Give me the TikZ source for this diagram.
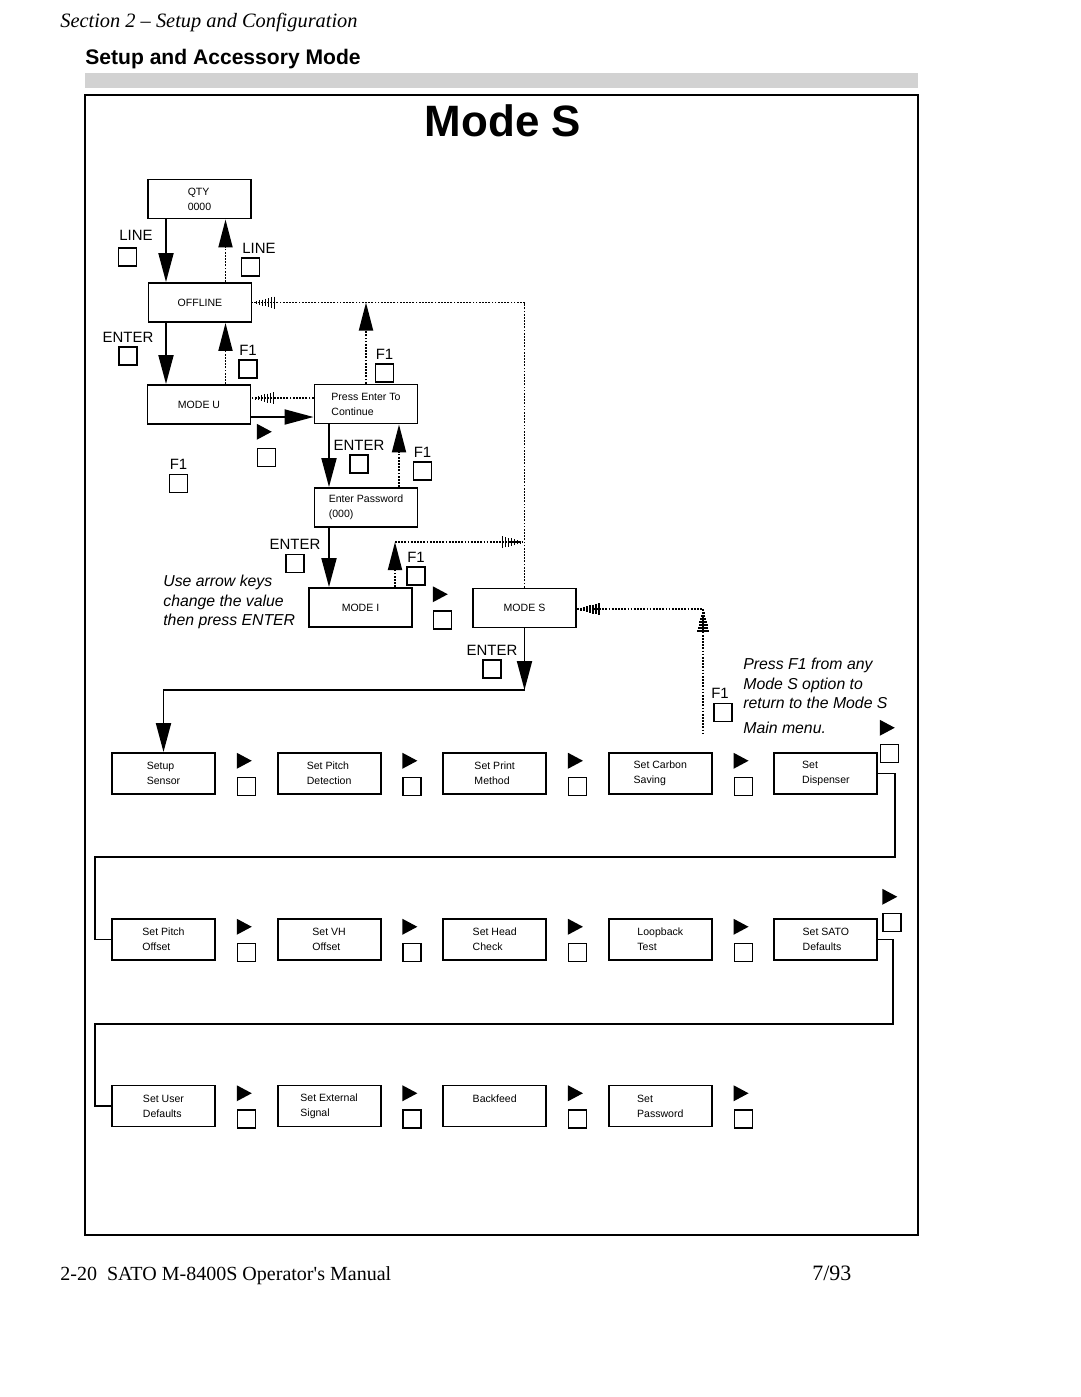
\documentclass[tikz,border=0pt]{standalone}
\usepackage{fontspec}
\setmainfont{Liberation Sans}
\newfontfamily\manualfont{Liberation Serif}
\usetikzlibrary{arrows.meta,calc,positioning}
\tikzset{
 box/.style={draw,line width=1.1pt,minimum width=2.06cm,minimum height=0.78cm,inner sep=1pt,align=left,font=\fontsize{6}{8.5}\selectfont},
 rowbox/.style={box,minimum height=0.82cm},
 keycap/.style={draw,line width=0.85pt,minimum size=0.36cm,inner sep=0pt,label distance=0pt},
 keylbl/.style={font=\fontsize{8.5}{10}\selectfont,inner sep=0pt,yshift=2.2pt},
 link/.style={line width=1.1pt},
 ptr/.style={link,-{Triangle[width=0.3cm,length=0.58cm]}},
 dotlink/.style={line width=1.05pt,dash pattern=on 1pt off 0.8pt},
 dotptr/.style={dotlink,-{Triangle[width=0.28cm,length=0.56cm]}},
 note/.style={font=\fontsize{9}{11}\selectfont\itshape,align=left,inner sep=0pt,anchor=north west},
}
\newcommand{\playkey}[3]{% name x y
 \node[keycap] (#1) at (#2,#3) {};
 \fill ($(#1.north west)+(0,-8)$) -- ++(0,-16) -- ++(15,8) -- cycle;
}
\newcommand{\hatchtip}[2]{% tip point, rotation
 \begin{scope}[shift={#1},rotate=#2]
  \foreach \i in {0,...,6} \draw[line width=0.65pt] (4+3*\i,{-1.5-0.75*\i}) -- (4+3*\i,{1.5+0.75*\i});
 \end{scope}
}
\begin{document}
\begin{tikzpicture}[x=0.02cm,y=-0.02cm]
\useasboundingbox (0,0) rectangle (1080,1397);
% page heading
\node[anchor=base west,inner sep=0pt,font=\manualfont\itshape\fontsize{11.6}{14}\selectfont] (sect) at (60,27) {Section 2 – Setup and Configuration};
\node[anchor=base west,inner sep=0pt,font=\bfseries\fontsize{12}{14}\selectfont] (head) at (85,64) {Setup and Accessory Mode};
\fill[gray!35] (85,73) rectangle (918,88);
\draw[line width=1.1pt] (85,95) rectangle (918,1235);
\node[font=\bfseries\fontsize{25}{28}\selectfont,inner sep=0pt] (title) at (503,121) {Mode S};

% main menu chain
\node[box] (qty) at (199.5,199) {QTY\\0000};
\node[box] (offline) at (200,302.5) {OFFLINE};
\node[box] (modeu) at (199,404.5) {MODE U};
\node[box] (press) at (366,404) {Press Enter To\\Continue};
\node[box] (passwd) at (366,507.5) {Enter Password\\(000)};
\node[box] (modei) at (360.5,607.5) {MODE I};
\node[box] (modes) at (524.5,608) {MODE S};

\coordinate (colA) at (166,0);
\coordinate (colB) at (225.5,0);
\coordinate (colC) at (329,0);
\coordinate (colD) at (399,0);
\coordinate (rowU1) at (0,417);
\coordinate (rowU2) at (0,398);
\coordinate (turnI) at (395,542);
\coordinate (backS) at (703,609);
\coordinate (backEnd) at (703,733);
\coordinate (split) at (0,690);

\draw[ptr] (qty.south -| colA) -- (offline.north -| colA);
\draw[dotptr] (offline.north -| colB) -- (qty.south -| colB);
\draw[ptr] (offline.south -| colA) -- (modeu.north -| colA);
\draw[dotptr] (modeu.north -| colB) -- (offline.south -| colB);
\draw[ptr] (modeu.east |- rowU1) -- (press.west |- rowU1);
\draw[dotlink] (press.west |- rowU2) -- (modeu.east |- rowU2);
\hatchtip{(modeu.east |- rowU2)}{0}
\draw[dotlink] (modes.north) |- (offline.east);
\hatchtip{(offline.east)}{0}
\draw[dotptr] (press.north) -- (press.north |- offline.east);
\draw[ptr] (press.south -| colC) -- (passwd.north -| colC);
\draw[dotptr] (passwd.north -| colD) -- (press.south -| colD);
\draw[ptr] (passwd.south -| colC) -- (modei.north -| colC);
\draw[dotptr] (modei.north -| turnI) -- (turnI);
\draw[dotlink] (turnI) -- (turnI -| modes.north);
\hatchtip{(turnI -| modes.north)}{180}
\draw[dotlink] (modes.east |- backS) -- (backS) -- (backEnd);
\hatchtip{(modes.east |- backS)}{0}
\hatchtip{(backS)}{-90}

% keys
\node[keycap,label={[keylbl,xshift=0.17cm,yshift=1.5pt]above:LINE}] (kLineA) at (127.5,257) {};
\node[keycap,label={[keylbl,xshift=0.17cm]above:LINE}] (kLineB) at (250.5,267) {};
\node[keycap,label={[keylbl]above:ENTER}] (kEntA) at (128,356) {};
\node[keycap,label={[keylbl]above:F1}] (kF1A) at (248,369) {};
\node[keycap,label={[keylbl]above:F1}] (kF1B) at (384.5,373) {};
\playkey{kNextU}{266.5}{457.5}
\node[keycap,label={[keylbl]above:F1}] (kF1C) at (178.5,483.5) {};
\node[keycap,label={[keylbl]above:ENTER}] (kEntB) at (359,464) {};
\node[keycap,label={[keylbl]above:F1}] (kF1D) at (422.5,471) {};
\node[keycap,label={[keylbl]above:ENTER}] (kEntC) at (295,563.5) {};
\node[keycap,label={[keylbl]above:F1}] (kF1E) at (416,576) {};
\playkey{kNextI}{442.5}{620}
\node[keycap,label={[keylbl]above:ENTER}] (kEntD) at (492,669) {};
\node[keycap,label={[keylbl,xshift=-0.06cm]above:F1}] (kF1S) at (723,712.5) {};

\node[note] (hintI) at (163,575) {Use arrow keys\\change the value\\then press ENTER};
\node[note] (hintS) at (743,658) {Press F1 from any\\Mode S option to\\return to the Mode S\\[3pt]Main menu.};

% Mode S options
\foreach \t [count=\i] in {{Setup\\Sensor},{Set Pitch\\Detection},{Set Print\\Method},{Set Carbon\\Saving},{Set\\Dispenser}}
 \node[rowbox] (a\i) at ({163.5+165.6*(\i-1)},773.5) {\t};
\foreach \t [count=\i] in {{Set Pitch\\Offset},{Set VH\\Offset},{Set Head\\Check},{Loopback\\Test},{Set SATO\\Defaults}}
 \node[rowbox] (b\i) at ({163.5+165.6*(\i-1)},939.5) {\t};
\foreach \t [count=\i] in {{Set User\\Defaults},{Set External\\Signal},{Backfeed\\\mbox{}},{Set\\Password}}
 \node[rowbox] (c\i) at ({163.5+165.6*(\i-1)},1106) {\t};
\foreach \i in {1,...,4} {
 \playkey{ka\i}{{246.5+165.6*(\i-1)}}{786.5}
 \playkey{kb\i}{{246.5+165.6*(\i-1)}}{952.5}
 \playkey{kc\i}{{246.5+165.6*(\i-1)}}{1119}
}
\playkey{kaEnd}{889.5}{753.5}
\playkey{kbEnd}{892}{922.5}

\draw[ptr] (modes.south) -- (modes.south |- split);
\draw[ptr] (modes.south |- split) -| (a1.north);
\coordinate (wrapA) at (895,857);
\coordinate (wrapB) at (95,857);
\coordinate (wrapC) at (893,1024);
\coordinate (wrapD) at (95,1024);
\draw[link] (a5.east) -| (wrapA) -- (wrapB) |- (b1.west);
\draw[link] (b5.east) -| (wrapC) -- (wrapD) |- (c1.west);

% page footer
\node[anchor=base west,inner sep=0pt,font=\manualfont\fontsize{11.4}{14}\selectfont] (foot) at (60,1280) {2-20\ \ SATO M-8400S Operator's Manual};
\node[anchor=base west,inner sep=0pt,font=\manualfont\fontsize{12.5}{14}\selectfont] (date) at (812,1280) {7/93};
\end{tikzpicture}
\end{document}
